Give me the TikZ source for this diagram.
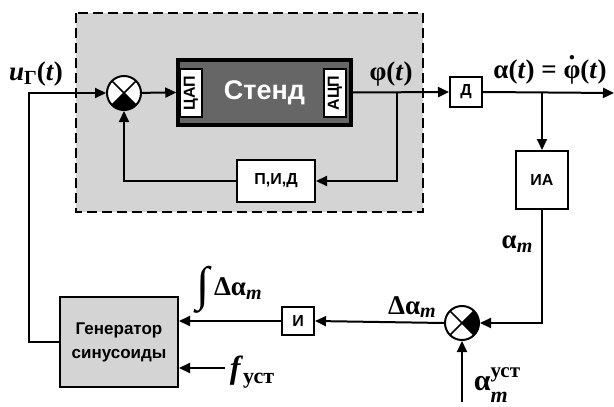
\documentclass[tikz,border=0pt]{standalone}
\usepackage{fontspec}
\setmainfont{Liberation Serif}
\setsansfont{Liberation Sans}
\usetikzlibrary{arrows.meta,positioning}
\newcommand\lab{\fontsize{27}{29}\selectfont\bfseries}
\newcommand\lsub[1]{\raisebox{-0.3ex}{\fontsize{20}{21}\selectfont #1}}
\newcommand\dphi{\ooalign{φ\crcr\hidewidth\raisebox{0.7em}{.}\hidewidth}}
\begin{document}
\begin{tikzpicture}[x=1pt, y=-1pt, >={Triangle[length=11pt,width=10pt]}, line width=2pt,
  block/.style={draw, fill=white, font=\sffamily\bfseries\fontsize{16}{18}\selectfont, inner sep=0pt},
  conv/.style={block, rotate=90, minimum width=48pt, minimum height=22pt},
  junction/.style args={#1/#2}{draw, circle, fill=white, minimum size=34pt, inner sep=0pt,
    path picture={
      \fill[black] (path picture bounding box.center) -- (path picture bounding box.#1)
        -- (path picture bounding box.#2) -- cycle;
      \draw[line width=1.6pt] (path picture bounding box.north west) -- (path picture bounding box.south east)
        (path picture bounding box.north east) -- (path picture bounding box.south west);}},
  sig/.style={font=\lab, inner sep=0pt}]
\useasboundingbox (0,0) rectangle (614,407);
% стенд с регулятором
\draw[dashed, dash pattern=on 10pt off 5pt, fill=black!17] (76,13) rectangle (423,212);
\node[draw, line width=3.5pt, fill=black!60, minimum width=173pt, minimum height=65pt, inner sep=0pt,
  font=\sffamily\bfseries\fontsize{27}{29}\selectfont, text=white] (stand) at (264.5,92.5) {Стенд};
\node[conv, line width=1.5pt] (dac) at (191,93) {ЦАП};
\node[conv, line width=1.5pt] (adc) at (335,93) {АЦП};
\node[junction=south west/south east] (sum1) at (124,93) {};
\node[block, minimum width=78pt, minimum height=42pt] (pid) at (276,181) {П,И,Д};
% измерение
\node[block, minimum width=32pt, minimum height=30pt] (diff) at (466,92) {Д};
\node[block, minimum width=52pt, minimum height=58pt] (ia) at (542,180) {ИА};
\node[junction=north east/south east] (sum2) at (462,323) {};
\node[block, minimum width=32pt, minimum height=28pt] (integ) at (298,321) {И};
\node[block, fill=black!17, minimum width=118pt, minimum height=90pt, align=center,
  font=\sffamily\bfseries\fontsize{17}{24}\selectfont] (gen) at (119,342) {Генератор\\синусоиды};
% связи
\coordinate (phi) at (397,93);
\coordinate (br) at (542,93);
\coordinate (out) at (614,93);
\coordinate (fin) at (225,368);
\coordinate (aset) at (462,402);
\draw[->] (sum1) -- (stand.west);
\draw[->] (stand.east) -- (diff.west);
\draw[->] (phi) |- (pid.east);
\draw[->] (pid.west) -| (sum1.south);
\draw[->] (diff.east) -- (out);
\draw[->] (br) -- (ia.north);
\draw[->] (ia.south) |- (sum2.east);
\draw[->] (aset) -- (sum2.south);
\draw[->] (sum2.west) -- (integ.east);
\draw[->] (integ.west) -- (integ.west -| gen.east);
\draw[->] (fin) -- (fin -| gen.east);
\draw[->] (gen.west) -- ++(-30,0) |- (sum1.west);
% подписи
\node[sig] (lu) at (36,74) {\textit{u}\lsub{Г}(\textit{t})};
\node[sig] (lphi) at (391,74) {φ(\textit{t})};
\node[sig] (lalpha) at (550,72) {α(\textit{t}) = \dphi(\textit{t})};
\node[sig] (lam) at (517,244) {α\lsub{\textit{m}}};
\node[sig] (ldam) at (412,307) {Δα\lsub{\textit{m}}};
\node[sig] (lint) at (229,290) {\raisebox{-0.2em}{\fontsize{48}{48}\selectfont\mdseries\itshape ∫}\,Δα\lsub{\textit{m}}};
\node[sig, font=\fontsize{32}{34}\selectfont\bfseries] (lf) at (252,372) {\textit{f}\raisebox{-0.3ex}{\fontsize{22}{23}\selectfont уст}};
\node[sig, font=\fontsize{30}{32}\selectfont\bfseries] (las) at (497,385)
  {α\rlap{\raisebox{-0.4em}{\fontsize{22}{23}\selectfont\textit{m}}}\raisebox{0.42em}{\fontsize{21}{22}\selectfont уст}};
\end{tikzpicture}
\end{document}
